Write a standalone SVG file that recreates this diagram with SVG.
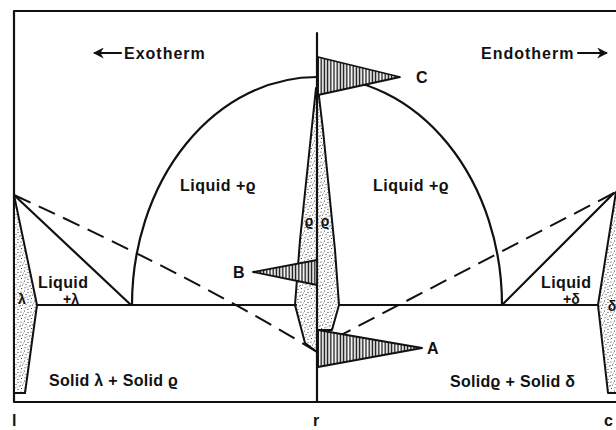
<svg xmlns="http://www.w3.org/2000/svg" width="616" height="430" viewBox="0 0 616 430">
<style>
text{font-family:"Liberation Sans",Arial,sans-serif;font-weight:bold;fill:#111;}
.lbl{font-size:16px;letter-spacing:0.5px;}
.big{font-size:16px;letter-spacing:1px;}
.sm{font-size:14px;}
.ln{fill:none;stroke:#111;stroke-width:2.2;stroke-linejoin:round;stroke-linecap:round;}
.dash{fill:none;stroke:#111;stroke-width:2;stroke-dasharray:18 9;}
.stip{fill:url(#stipple);stroke:#111;stroke-width:2;stroke-linejoin:round;}
.hatch{fill:url(#hatch);stroke:#111;stroke-width:1.8;stroke-linejoin:round;}
</style>
<defs>
<pattern id="stipple" patternUnits="userSpaceOnUse" width="10" height="10">
<rect width="10" height="10" fill="#fff"/>
<g fill="#222">
<circle cx="1" cy="2" r="0.6"/><circle cx="4.5" cy="1" r="0.55"/><circle cx="8" cy="2.5" r="0.6"/>
<circle cx="2.5" cy="5" r="0.55"/><circle cx="6" cy="4.5" r="0.6"/><circle cx="9.3" cy="6" r="0.55"/>
<circle cx="1.5" cy="8.5" r="0.6"/><circle cx="5" cy="7.8" r="0.55"/><circle cx="8" cy="9.3" r="0.6"/>
<circle cx="3.5" cy="3" r="0.45"/><circle cx="7" cy="7" r="0.45"/><circle cx="0.4" cy="5.8" r="0.45"/>
</g>
</pattern>
<pattern id="hatch" patternUnits="userSpaceOnUse" width="3.2" height="10">
<rect width="3.2" height="10" fill="#fff"/>
<line x1="1.2" y1="0" x2="1.2" y2="10" stroke="#111" stroke-width="1.4"/>
</pattern>
<marker id="ah" viewBox="0 0 10 10" refX="8" refY="5" markerWidth="5" markerHeight="5" orient="auto">
<path d="M0,0 L10,5 L0,10 L3,5 Z" fill="#111"/>
</marker>
</defs>

<g id="frame">
<path class="ln" d="M616,11 H14 V402 H616"/>
</g>

<g id="lambda-region">
<path class="stip" d="M14,195 L37,305 L25,393 L14,393 Z"/>
<text class="sm" x="22" y="304" text-anchor="middle">λ</text>
</g>

<g id="delta-region">
<path class="stip" d="M616,192 L598,305 L608,393 L617,393 L617,192 Z"/>
<text class="sm" x="612" y="311" text-anchor="middle">δ</text>
</g>

<g id="rho-spindles">
<path class="stip" d="M316,88 L300,240 L295,305 L305,343 L317,352 L317,88 Z"/>
<path class="stip" d="M318,88 L323,130 L335,250 L339,305 L332,330 L317,330 L317,88 Z"/>
<text class="sm" x="309" y="226" text-anchor="middle">ϱ</text>
<text class="sm" x="325" y="226" text-anchor="middle">ϱ</text>
</g>

<g id="connectors">
<path class="ln" d="M14,195 L131,305"/>
<path class="ln" d="M614,193 L502,305"/>
<path class="ln" d="M37,305 H296"/>
<path class="ln" d="M339,305 H598"/>
<path class="ln" d="M132,305 A185,228 0 0 1 502,305"/>
<path class="dash" d="M14,195 Q200,280 317,352"/>
<path class="dash" d="M614,193 L318,347"/>
<path class="ln" d="M317,33 V402"/>
</g>

<g id="peak-C">
<path class="hatch" d="M318,57 L400,77 L318,95 Z"/>
<text class="lbl" x="422" y="83" text-anchor="middle">C</text>
</g>

<g id="peak-B">
<path class="hatch" d="M317,260 L253,272 L317,285 Z"/>
<text class="lbl" x="239" y="278" text-anchor="middle">B</text>
</g>

<g id="peak-A">
<path class="hatch" d="M318,330 L422,348 L318,367 Z"/>
<text class="lbl" x="433" y="354" text-anchor="middle">A</text>
</g>

<g id="exotherm">
<line class="ln" x1="121" y1="53" x2="95" y2="53" marker-end="url(#ah)"/>
<text class="big" x="124" y="59">Exotherm</text>
</g>
<g id="endotherm">
<text class="big" x="481" y="59">Endotherm</text>
<line class="ln" x1="578" y1="53" x2="606" y2="53" marker-end="url(#ah)"/>
</g>

<g id="labels">
<text class="lbl" x="180" y="191">Liquid +ϱ</text>
<text class="lbl" x="373" y="191">Liquid +ϱ</text>
<text class="lbl" x="38" y="288" style="letter-spacing:0.4px">Liquid</text>
<text class="sm" x="63" y="304">+λ</text>
<text class="lbl" x="541" y="288" style="letter-spacing:0.4px">Liquid</text>
<text class="sm" x="563" y="304">+δ</text>
<text class="lbl" x="49" y="386" style="letter-spacing:0.3px">Solid λ + Solid ϱ</text>
<text class="lbl" x="450" y="387" style="letter-spacing:0.3px">Solidϱ + Solid δ</text>
<text class="lbl" x="12" y="426">l</text>
<text class="lbl" x="313" y="426">r</text>
<text class="lbl" x="604" y="426">c</text>
</g>
</svg>
